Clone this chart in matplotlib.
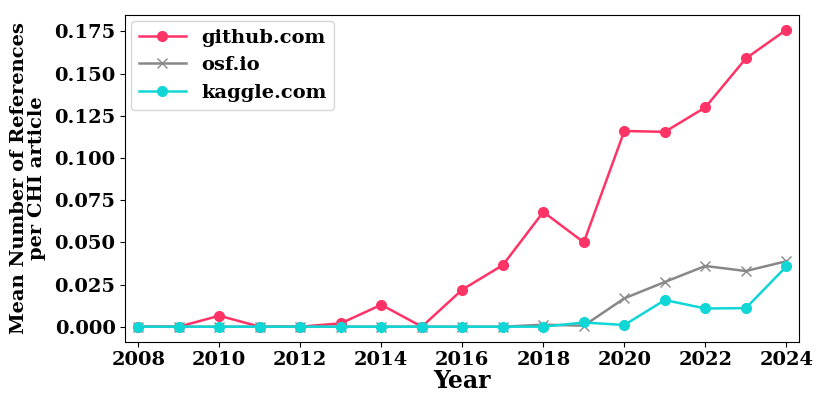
import numpy as np
import matplotlib
matplotlib.use("Agg")
import matplotlib.pyplot as plt

plt.rcParams['font.family'] = ['DejaVu Serif']
plt.rcParams['font.weight'] = 'bold'

years = list(range(2008, 2025))
github = [0.0, 0.0, 0.0065, 0.0, 0.0, 0.002, 0.013, 0.0, 0.022, 0.0365, 0.068, 0.050,
          0.116, 0.1155, 0.130, 0.159, 0.176]
osf = [0.0, 0.0, 0.0, 0.0, 0.0, 0.0, 0.0, 0.0, 0.0, 0.0, 0.0012, 0.0006,
       0.0168, 0.0265, 0.036, 0.033, 0.0388]
kaggle = [0.0, 0.0, 0.0, 0.0, 0.0, 0.0, 0.0, 0.0, 0.0, 0.0, 0.0, 0.0025,
          0.001, 0.0158, 0.0108, 0.011, 0.0357]

fig, ax = plt.subplots(figsize=(8.3, 4.15), dpi=100)
plt.subplots_adjust(left=0.151, right=0.963, top=0.964, bottom=0.177)

ax.plot(years, github, color='#ff3366', marker='o', markersize=7, linewidth=1.8, label='github.com')
ax.plot(years, osf, color='#888888', marker='x', markersize=7, linewidth=1.8, label='osf.io')
ax.plot(years, kaggle, color='#11d6d6', marker='o', markersize=7, linewidth=1.8, label='kaggle.com')

ax.margins(x=0.02)
ax.set_xticks(range(2008, 2025, 2))
ax.set_yticks(np.arange(0, 0.176, 0.025))
ax.yaxis.set_major_formatter(matplotlib.ticker.FormatStrFormatter('%.3f'))
ax.tick_params(labelsize=14)
for lab in ax.get_xticklabels() + ax.get_yticklabels():
    lab.set_fontweight('bold')

ax.set_xlabel('Year', fontsize=17, fontweight='bold', labelpad=0)
ax.set_ylabel('Mean Number of References\nper CHI article', fontsize=14, fontweight='bold',
              linespacing=1.0, labelpad=6)
ax.legend(loc='upper left', prop={'size': 14, 'weight': 'bold'}, handlelength=2.4,
          labelspacing=0.5, borderaxespad=0.3)

fig.savefig('out.png', dpi=100)
